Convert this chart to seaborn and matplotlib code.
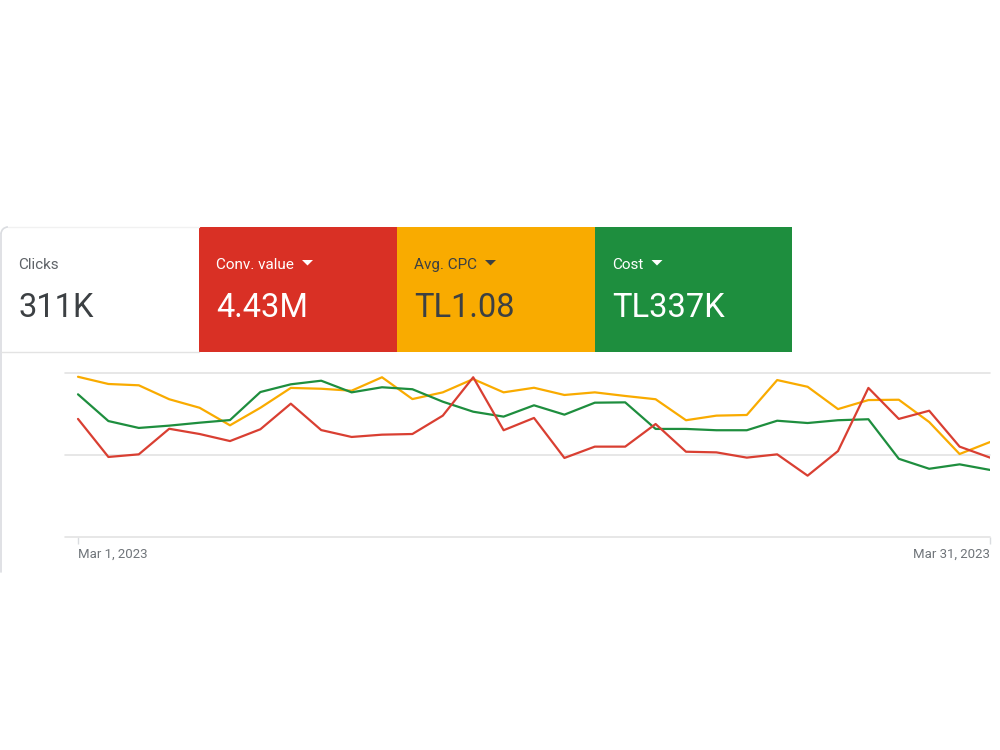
import numpy as np
import pandas as pd
import matplotlib
matplotlib.use("Agg")
import matplotlib.pyplot as plt
import matplotlib.dates as mdates
import seaborn as sns
from matplotlib.patches import Rectangle, Polygon, Arc
from matplotlib.lines import Line2D

# ---------------- data ----------------
dates = pd.date_range("2023-03-01", "2023-03-31", freq="D")

conv_value = [72.0, 48.8, 50.4, 66.0, 62.8, 58.5, 65.7, 81.3, 65.2, 61.0,
              62.4, 62.8, 74.0, 97.4, 65.1, 72.6, 48.2, 55.1, 55.1, 68.9,
              52.0, 51.6, 48.4, 50.4, 37.4, 52.4, 90.9, 72.0, 77.0, 55.1, 48.4]
avg_cpc = [97.7, 93.3, 92.5, 84.0, 78.8, 68.1, 78.8, 90.9, 90.4, 89.2,
           97.4, 84.1, 88.2, 96.3, 88.2, 91.0, 86.6, 88.2, 86.0, 84.0,
           71.2, 74.0, 74.4, 95.7, 91.6, 78.0, 83.5, 83.7, 70.1, 50.6, 57.9]
cost = [87.0, 70.7, 66.5, 67.9, 69.7, 71.3, 88.4, 93.1, 95.3, 88.2,
        91.3, 90.1, 82.5, 76.4, 73.4, 80.3, 74.6, 81.9, 82.1, 65.9,
        65.9, 65.1, 65.1, 70.9, 69.5, 71.2, 71.8, 47.7, 41.6, 44.3, 40.9]

metric_names = ["Conv. value", "Avg. CPC", "Cost"]
metric_totals = ["4.43M", "TL1.08", "TL337K"]
metric_colors = ["#D93025", "#F9AB00", "#1E8E3E"]
metric_text_colors = ["#FFFFFF", "#3C4043", "#FFFFFF"]
clicks_label, clicks_total = "Clicks", "311K"
tick_labels = ["Mar 1, 2023", "Mar 31, 2023"]

# ---------------- setup ----------------
sns.set_theme(style="white")
plt.rcParams["font.family"] = ["Roboto", "DejaVu Sans"]

W, H = 1000, 750
fig = plt.figure(figsize=(10, 7.5), dpi=100)
fig.patch.set_facecolor("white")


def fx(x):
    return x / W


def fy(y):
    return 1 - y / H


# ---------------- line chart ----------------
ax = fig.add_axes([fx(65), fy(537), fx(990) - fx(65), (537 - 373) / H])
df = pd.DataFrame({
    "date": np.tile(dates, 3),
    "value": conv_value + avg_cpc + cost,
    "metric": np.repeat(metric_names, len(dates)),
})
palette = {"Conv. value": "#D93F32", "Avg. CPC": "#F9AB00", "Cost": "#1E8E3E"}
sns.lineplot(data=df, x="date", y="value", hue="metric",
             hue_order=["Avg. CPC", "Cost", "Conv. value"],
             palette=palette, linewidth=1.6, legend=False, ax=ax, zorder=3)

x0 = mdates.date2num(dates[0])
x1 = mdates.date2num(dates[-1])
px_per_day = (990 - 78) / (x1 - x0)
ax.set_xlim(x0 - 13 / px_per_day, x1)
ax.set_ylim(0, 100)
for s in ax.spines.values():
    s.set_visible(False)
ax.set_yticks([])
ax.set_ylabel("")
ax.set_xlabel("")
for yv in [0, 50, 100]:
    ax.axhline(yv, color="#E3E3E3", linewidth=1.2, zorder=1, clip_on=False)

ax.set_xticks([dates[0], dates[-1]])
ax.set_xticklabels(tick_labels)
ax.tick_params(axis="x", length=5, width=1, color="#DADCE0", pad=3,
               labelsize=9.5, labelcolor="#70757A", direction="out", bottom=True)
lbls = ax.get_xticklabels()
lbls[0].set_ha("left")
lbls[-1].set_ha("right")
ax.patch.set_alpha(0)

# ---------------- header cards ----------------
card_x = [199, 397, 595]
card_w = [198, 198, 197]
tri_x = [307.5, 490.5, 657]
for i, name in enumerate(metric_names):
    fig.add_artist(Rectangle((fx(card_x[i]), fy(352)), card_w[i] / W, 125 / H,
                             transform=fig.transFigure, facecolor=metric_colors[i],
                             edgecolor="none", zorder=2))
    tx = card_x[i] + 17
    fig.text(fx(tx), fy(269), name, color=metric_text_colors[i], fontsize=11,
             ha="left", va="baseline", zorder=3)
    fig.text(fx(tx), fy(317), metric_totals[i], color=metric_text_colors[i],
             fontsize=23.5, ha="left", va="baseline", zorder=3)
    t = tri_x[i]
    fig.add_artist(Polygon([(fx(t - 5.5), fy(260)), (fx(t + 5.5), fy(260)),
                            (fx(t), fy(265.5))], closed=True,
                           transform=fig.transFigure,
                           facecolor=metric_text_colors[i], edgecolor="none", zorder=3))

fig.text(fx(18), fy(269), clicks_label, color="#5F6368", fontsize=11,
         ha="left", va="baseline")
fig.text(fx(18), fy(317), clicks_total, color="#3C4043", fontsize=23.5,
         ha="left", va="baseline")

# card borders
fig.add_artist(Line2D([fx(1), fx(1)], [fy(234), fy(572)], color="#DADCE0",
                      linewidth=1.2, transform=fig.transFigure))
fig.add_artist(Arc((fx(8), fy(234)), 14 / W, 14 / H, theta1=90, theta2=180,
                   transform=fig.transFigure, color="#DADCE0", linewidth=1.2))
fig.add_artist(Line2D([fx(8), fx(199)], [fy(227), fy(227)], color="#F1F1F1",
                      linewidth=1.0, transform=fig.transFigure))
fig.add_artist(Line2D([fx(1), fx(199)], [fy(351.5), fy(351.5)], color="#E3E3E3",
                      linewidth=1.0, transform=fig.transFigure))

fig.savefig("out.png", dpi=100, facecolor="white")
